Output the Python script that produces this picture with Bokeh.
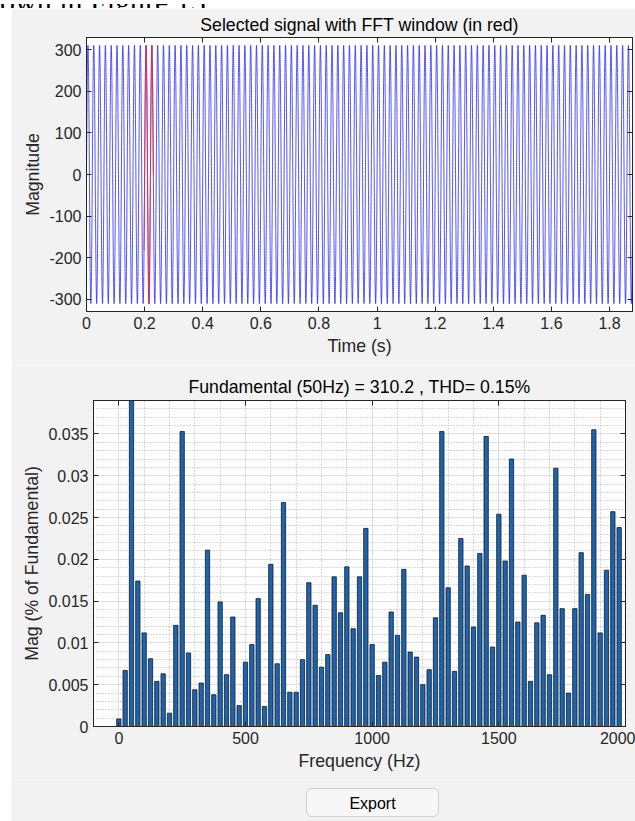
import numpy as np
from bokeh.plotting import figure
from bokeh.layouts import row
from bokeh.models import Spacer, FixedTicker, LinearAxis, Range1d, BoxAnnotation, Div
from bokeh.core.properties import value
from bokeh.embed import file_html
from bokeh.resources import INLINE

FONT = "Liberation Sans"
BG = "#f2f2f2"
AX = "#262626"
FS_TICK = "16px"
FS_LAB = "17.7px"

# ---------------- data ----------------
# Time signal: 50 Hz fundamental, amplitude 310.2 (as stated in the lower title)
FUND_HZ = 50
FUND_AMP = 310.2
SAMPLE_RATE = 10000
T_END = 1.879
WIN_START = 0.198
WIN_END = 0.23

# Spectrum (25 Hz bins), magnitude in % of fundamental
FREQS = [0, 25, 50, 75, 100, 125, 150, 175, 200, 225, 250, 275, 300, 325, 350, 375,
         400, 425, 450, 475, 500, 525, 550, 575, 600, 625, 650, 675, 700, 725, 750, 775,
         800, 825, 850, 875, 900, 925, 950, 975, 1000, 1025, 1050, 1075, 1100, 1125, 1150, 1175,
         1200, 1225, 1250, 1275, 1300, 1325, 1350, 1375, 1400, 1425, 1450, 1475, 1500, 1525, 1550, 1575,
         1600, 1625, 1650, 1675, 1700, 1725, 1750, 1775, 1800, 1825, 1850, 1875, 1900, 1925, 1950, 1975]
MAGS = [0.0009, 0.0067, 100.0, 0.0174, 0.0112, 0.0081, 0.0054, 0.0063, 0.0016, 0.0121, 0.0353, 0.0088,
        0.0044, 0.0052, 0.0211, 0.0038, 0.0149, 0.0062, 0.0131, 0.0025, 0.0077, 0.0098, 0.0153, 0.0024,
        0.0194, 0.0075, 0.0268, 0.0041, 0.0041, 0.0080, 0.0172, 0.0145, 0.0071, 0.0086, 0.0179, 0.0136,
        0.0191, 0.0117, 0.0179, 0.0237, 0.0098, 0.0061, 0.0077, 0.0137, 0.0109, 0.0188, 0.0089, 0.0083,
        0.0050, 0.0068, 0.0130, 0.0353, 0.0166, 0.0066, 0.0225, 0.0192, 0.0119, 0.0207, 0.0347, 0.0095,
        0.0254, 0.0198, 0.0320, 0.0125, 0.0181, 0.0054, 0.0124, 0.0133, 0.0062, 0.0309, 0.0141, 0.0040,
        0.0141, 0.0208, 0.0158, 0.0355, 0.0112, 0.0187, 0.0257, 0.0238]

T_TICKS = [0, 0.2, 0.4, 0.6, 0.8, 1.0, 1.2, 1.4, 1.6, 1.8]
T_LABELS = ["0", "0.2", "0.4", "0.6", "0.8", "1", "1.2", "1.4", "1.6", "1.8"]
V_TICKS = [-300, -200, -100, 0, 100, 200, 300]
V_LABELS = ["-300", "-200", "-100", "0", "100", "200", "300"]
F_TICKS = [0, 500, 1000, 1500, 2000]
F_LABELS = ["0", "500", "1000", "1500", "2000"]
F_MINOR = [-100, 100, 200, 300, 400, 600, 700, 800, 900, 1100, 1200, 1300, 1400,
           1600, 1700, 1800, 1900]
M_TICKS = [0, 0.005, 0.01, 0.015, 0.02, 0.025, 0.03, 0.035]
M_LABELS = ["0", "0.005", "0.01", "0.015", "0.02", "0.025", "0.03", "0.035"]
M_MINOR = [0.001, 0.002, 0.003, 0.004, 0.006, 0.007, 0.008, 0.009, 0.011, 0.012, 0.013, 0.014,
           0.016, 0.017, 0.018, 0.019, 0.021, 0.022, 0.023, 0.024, 0.026, 0.027, 0.028, 0.029,
           0.031, 0.032, 0.033, 0.034, 0.036, 0.037, 0.038]

TITLE1 = "Selected signal with FFT window (in red)"
TITLE2 = "Fundamental (50Hz) = 310.2 , THD= 0.15%"
DOC_TEXT = "own in Figure 13."
BUTTON_TEXT = "Export"

t = np.arange(0, T_END, 1.0 / SAMPLE_RATE)
sig = FUND_AMP * np.sin(2 * np.pi * FUND_HZ * t)
win = (t >= WIN_START) & (t <= WIN_END)


def style_axis(ax, ticks, labels=None):
    ax.ticker = FixedTicker(ticks=ticks)
    ax.axis_line_color = AX
    ax.major_tick_line_color = AX
    ax.major_tick_in = 5
    ax.major_tick_out = 0
    ax.minor_tick_line_color = None
    ax.major_label_text_font = FONT
    ax.axis_label_text_font = FONT
    ax.axis_label_text_font_size = FS_LAB
    ax.axis_label_text_font_style = "normal"
    ax.axis_label_text_color = AX
    if labels is None:
        # tick marks only (box ticks on top / right): no labels drawn
        ax.major_label_text_font_size = "0px"
        ax.major_label_text_color = None
        ax.major_label_standoff = 0
    else:
        ax.major_label_text_color = AX
        ax.major_label_text_font_size = FS_TICK
        ax.major_label_overrides = {tk: lb for tk, lb in zip(ticks, labels)}


def style_fig(p):
    p.title.text_font = FONT
    p.title.text_font_size = FS_LAB
    p.title.text_font_style = "normal"
    p.title.align = "center"
    p.title.text_color = "#000000"
    p.outline_line_color = AX
    p.outline_line_width = 1


# ---------------- strip with (cropped) document text ----------------
strip = Div(
    text=('<div style="height:8px; width:635px; overflow:hidden; background:#ffffff;">'
          '<div style="margin-top:-17px; white-space:nowrap; '
          'font-family:\'Liberation Serif\'; font-size:30px; line-height:30px; color:#000;">'
          + DOC_TEXT + '</div></div>'),
    width=635, height=8, margin=0,
    styles={"overflow": "hidden", "background-color": "white"},
)

# ---------------- time signal ----------------
p1 = figure(width=624, height=357, output_backend="svg", toolbar_location=None,
            x_range=Range1d(0, T_END), y_range=Range1d(-329, 329),
            min_border_left=75, min_border_right=3, min_border_top=29, min_border_bottom=54,
            background_fill_color="white", border_fill_color=BG, title=TITLE1)
style_fig(p1)
p1.title.standoff = 6
p1.grid.visible = False
p1.line(t, sig, line_color="#0000ff", line_width=0.8, line_alpha=0.85)
p1.line(t[win], sig[win], line_color="#ff2020", line_width=0.9, line_alpha=0.9)
style_axis(p1.xaxis[0], T_TICKS, T_LABELS)
style_axis(p1.yaxis[0], V_TICKS, V_LABELS)
p1.xaxis.axis_label = "Time (s)"
p1.yaxis.axis_label = "Magnitude"
p1.xaxis.axis_label_standoff = 4
p1.yaxis.axis_label_standoff = 3
ax = LinearAxis(); style_axis(ax, T_TICKS); p1.add_layout(ax, "above")
ax = LinearAxis(); style_axis(ax, V_TICKS); p1.add_layout(ax, "right")

# ---------------- spectrum ----------------
p2 = figure(width=624, height=415, output_backend="svg", toolbar_location=None,
            x_range=Range1d(-100, 2000), y_range=Range1d(0, 0.039),
            min_border_left=82, min_border_right=10, min_border_top=35, min_border_bottom=54,
            background_fill_color="white", border_fill_color=BG, title=TITLE2)
style_fig(p2)
p2.title.standoff = 8
p2.vbar(x=FREQS, top=MAGS, bottom=0, width=17, fill_color="#1e64ad",
        line_color="#0f1a26", line_width=0.8)
style_axis(p2.xaxis[0], F_TICKS, F_LABELS)
style_axis(p2.yaxis[0], M_TICKS, M_LABELS)
p2.xaxis.axis_label = "Frequency (Hz)"
p2.yaxis.axis_label = "Mag (% of Fundamental)"
p2.xaxis.axis_label_standoff = 4
p2.yaxis.axis_label_standoff = 3
p2.xgrid.ticker = FixedTicker(ticks=F_TICKS, minor_ticks=F_MINOR)
p2.ygrid.ticker = FixedTicker(ticks=M_TICKS, minor_ticks=M_MINOR)
for g in (p2.xgrid[0], p2.ygrid[0]):
    g.grid_line_color = "#dedede"
    g.minor_grid_line_color = "#b5b5b5"
    g.minor_grid_line_dash = "1 2"
    g.minor_grid_line_width = 1
ax = LinearAxis(); style_axis(ax, F_TICKS); p2.add_layout(ax, "above")
ax = LinearAxis(); style_axis(ax, M_TICKS); p2.add_layout(ax, "right")

# ---------------- export button ----------------
pb = figure(width=624, height=41, x_range=Range1d(0, 624), y_range=Range1d(41, 0),
            min_border=0, x_axis_location=None, y_axis_location=None,
            output_backend="svg", toolbar_location=None,
            background_fill_color=BG, border_fill_color=BG, outline_line_color=None)
pb.grid.visible = False
pb.add_layout(BoxAnnotation(left=295, right=427, top=8, bottom=36, fill_color="#f7f7f7",
                            fill_alpha=1, line_color="#7a7a7a", line_width=1, border_radius=5,
                            level="underlay"))
pb.text(x=[361], y=[22.5], text=[BUTTON_TEXT], text_align="center", text_baseline="middle",
        text_font=value(FONT), text_font_size="16px", text_color="#000000")

roots = [
    strip,
    row(Spacer(width=11, height=357), p1),
    row(Spacer(width=11, height=415), p2),
    row(Spacer(width=11, height=41), pb),
]

open("out.html", "w").write(file_html(roots, INLINE))
